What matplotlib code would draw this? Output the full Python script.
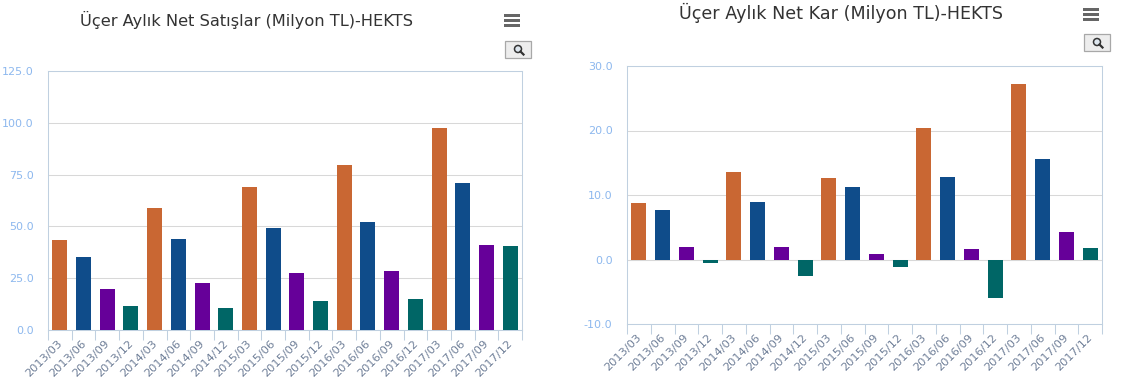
"""Üçer aylık net satışlar ve net kar, HEKTS : iki bar grafik yan yana."""

import matplotlib
matplotlib.use("Agg")
import matplotlib.pyplot as plt
from matplotlib.lines import Line2D
from matplotlib.patches import Circle, FancyBboxPatch, Rectangle

W, H = 1121, 385

QUARTERS = [
    "2013/03", "2013/06", "2013/09", "2013/12",
    "2014/03", "2014/06", "2014/09", "2014/12",
    "2015/03", "2015/06", "2015/09", "2015/12",
    "2016/03", "2016/06", "2016/09", "2016/12",
    "2017/03", "2017/06", "2017/09", "2017/12",
]
SALES = [43.5, 35, 20, 11.5, 59, 44, 22.5, 10.5, 69, 49, 27.5, 14,
         79.5, 52, 28.5, 15, 97.5, 71, 41, 40.5]
PROFIT = [8.8, 7.6, 2.0, -0.6, 13.6, 8.9, 1.9, -2.6, 12.7, 11.3, 0.9, -1.2,
          20.4, 12.8, 1.7, -6.0, 27.2, 15.6, 4.2, 1.8]
SALES_TICKS = [0, 25, 50, 75, 100, 125]
PROFIT_TICKS = [-10, 0, 10, 20, 30]

# renkler çeyreğe göre tekrar ediyor
Q_COLORS = ["#C96733", "#0F4C8A", "#660099", "#006666"]
BLUE_LABEL = "#8DB8EE"
AXIS = "#C0D0E0"
GRID = "#D8D8D8"
TEXT = "#333333"


def px_axes(fig, left, top, right, bottom):
    return fig.add_axes([left / W, 1 - bottom / H, (right - left) / W, (bottom - top) / H])


def bar_panel(fig, box, values, yticks, title, title_xy, title_size):
    ax = px_axes(fig, *box)
    x = list(range(len(values)))
    colors = [Q_COLORS[i % 4] for i in x]
    ax.set_axisbelow(True)
    ax.grid(axis="y", color=GRID, linewidth=0.75)
    ax.bar(x, values, width=0.63, color=colors, zorder=3)
    ax.set_xlim(-0.5, len(values) - 0.5)
    ax.set_ylim(yticks[0], yticks[-1])
    ax.set_yticks(yticks)
    ax.set_yticklabels([f"{v:.1f}" for v in yticks], color=BLUE_LABEL, fontsize=8,
                       family="DejaVu Sans")
    ax.tick_params(axis="y", length=0, pad=10.5)

    # tikler kategori sınırlarında, etiketler ayrı
    ax.set_xticks([i - 0.5 for i in range(len(values) + 1)])
    ax.set_xticklabels([])
    ax.tick_params(axis="x", length=7.5, width=0.75, color=AXIS)
    for i, q in enumerate(QUARTERS):
        ax.annotate(q, xy=(i, yticks[0]), xycoords="data", xytext=(-2, -6),
                    textcoords="offset points", rotation=45, rotation_mode="anchor",
                    ha="right", va="top", fontsize=8.2, color="#6F7F98",
                    annotation_clip=False)

    for s in ax.spines.values():
        s.set_color(AXIS)
        s.set_linewidth(0.75)
    if yticks[0] < 0:
        ax.axhline(0, color=GRID, linewidth=0.75, zorder=2)

    fig.text(title_xy[0] / W, 1 - title_xy[1] / H, title, ha="center", va="center",
             fontsize=title_size, color=TEXT, family="DejaVu Sans")
    return ax


def toolbar(fig, menu_x, menu_y, btn_x, btn_y):
    # hamburger menü
    for dy in (0, 5, 10):
        fig.add_artist(Rectangle((menu_x / W, 1 - (menu_y + dy + 3) / H), 16 / W, 3 / H,
                                 transform=fig.transFigure, color="#666666", lw=0))
    # zoom butonu
    fig.add_artist(FancyBboxPatch((btn_x / W, 1 - (btn_y + 17) / H), 26 / W, 17 / H,
                                  boxstyle="square,pad=0", transform=fig.transFigure,
                                  facecolor="#EDEDED", edgecolor="#A8A8A8", linewidth=0.9))
    cx, cy = btn_x + 13, btn_y + 8
    fig.add_artist(Circle((cx, H - cy), 3.5, transform=None, facecolor="#DDE6EE",
                          edgecolor="#333333", linewidth=1.1))
    fig.add_artist(Line2D([cx + 2.5, cx + 5.5], [H - cy - 2.5, H - cy - 5.5], transform=None,
                          color="#333333", linewidth=1.6))


def main():
    fig = plt.figure(figsize=(W / 100, H / 100), dpi=100, facecolor="white")

    bar_panel(fig, (48, 71, 522, 330), SALES, SALES_TICKS,
              "Üçer Aylık Net Satışlar (Milyon TL)-HEKTS", (246, 20), 11.7)
    bar_panel(fig, (627, 66, 1102, 324), PROFIT, PROFIT_TICKS,
              "Üçer Aylık Net Kar (Milyon TL)-HEKTS", (841, 13), 12.65)

    toolbar(fig, 504, 14, 505, 41)
    toolbar(fig, 1083, 8, 1084, 34)

    fig.savefig("out.png", dpi=100, facecolor="white")
    plt.close(fig)


if __name__ == "__main__":
    main()
